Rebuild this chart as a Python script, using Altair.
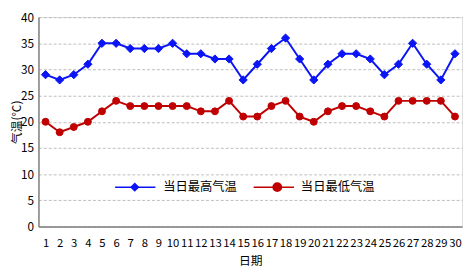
import altair as alt
import pandas as pd

days = list(range(1, 31))
high = [29, 28, 29, 31, 35, 35, 34, 34, 34, 35, 33, 33, 32, 32, 28,
        31, 34, 36, 32, 28, 31, 33, 33, 32, 29, 31, 35, 31, 28, 33]
low = [20, 18, 19, 20, 22, 24, 23, 23, 23, 23, 23, 22, 22, 24, 21,
       21, 23, 24, 21, 20, 22, 23, 23, 22, 21, 24, 24, 24, 24, 21]
series_names = ["当日最高气温", "当日最低气温"]
y_ticks = [0, 5, 10, 15, 20, 25, 30, 35, 40]

BLUE = "#0A14F5"
RED = "#C00000"
FONT = "Noto Sans CJK SC"

PLOT_H = 213

df_high = pd.DataFrame({"day": days, "temp": high})
df_low = pd.DataFrame({"day": days, "temp": low})

x_enc = alt.X("day:O", scale=alt.Scale(type="point", padding=0.5),
              axis=alt.Axis(labelAngle=0, ticks=False, grid=False, domainColor="#808080",
                            domainWidth=1.5, labelPadding=11, titlePadding=7, title="日期",
                            labelFontSize=11.5, titleFontSize=12, labelColor="#000",
                            titleColor="#000", titleFontWeight="normal"))
y_enc = alt.Y("temp:Q", scale=alt.Scale(domain=[0, 40], nice=False),
              axis=alt.Axis(values=y_ticks, ticks=False, grid=True, gridDash=[3, 2],
                            gridColor="#BDBDBD", domainColor="#808080", domainWidth=1.5,
                            labelPadding=5, title="气温(℃)",
                            titleX=-22, titleY=PLOT_H / 2, titleAngle=270,
                            titleAlign="center", titleBaseline="middle",
                            labelFontSize=12, titleFontSize=12, labelColor="#000",
                            titleColor="#000", titleFontWeight="normal"))

def series_layers(df, color, shape, size):
    base = alt.Chart(df)
    line = base.mark_line(color=color, strokeWidth=2).encode(x=x_enc, y=y_enc)
    pts = base.mark_point(color=color, shape=shape, size=size, filled=True, opacity=1,
                          stroke=color, strokeWidth=1).encode(x=x_enc, y=y_enc)
    return [line, pts]

# legend layout (pixels inside the plot area)
LEG_Y = 173
LEG = [
    {"x0": 78, "x1": 119, "xm": 98, "xt": 127, "color": BLUE, "shape": "diamond", "size": 90},
    {"x0": 219, "x1": 260, "xm": 243, "xt": 267, "color": RED, "shape": "circle", "size": 100},
]

def legend_layers(name, L):
    d = alt.Chart(pd.DataFrame({"label": [name]}))
    rule = d.mark_rule(color=L["color"], strokeWidth=1.5).encode(
        x=alt.value(L["x0"]), x2=alt.value(L["x1"]), y=alt.value(LEG_Y))
    pt = d.mark_point(color=L["color"], shape=L["shape"], size=L["size"], filled=True,
                      opacity=1).encode(x=alt.value(L["xm"]), y=alt.value(LEG_Y))
    txt = d.mark_text(align="left", baseline="middle", font=FONT, fontSize=12.5,
                      color="#000").encode(x=alt.value(L["xt"]), y=alt.value(LEG_Y),
                                           text="label:N")
    return [rule, pt, txt]

layers = (series_layers(df_high, BLUE, "diamond", 70)
          + series_layers(df_low, RED, "circle", 50)
          + legend_layers(series_names[0], LEG[0])
          + legend_layers(series_names[1], LEG[1]))

chart = alt.layer(*layers).properties(
    width=431, height=PLOT_H,
    autosize=alt.AutoSizeParams(type="none"),
    padding={"left": 31, "top": 7, "right": 2, "bottom": 41},
).configure_view(stroke=None).configure(font=FONT)

chart.save("out.html", embed_options={"renderer": "svg", "actions": False})
